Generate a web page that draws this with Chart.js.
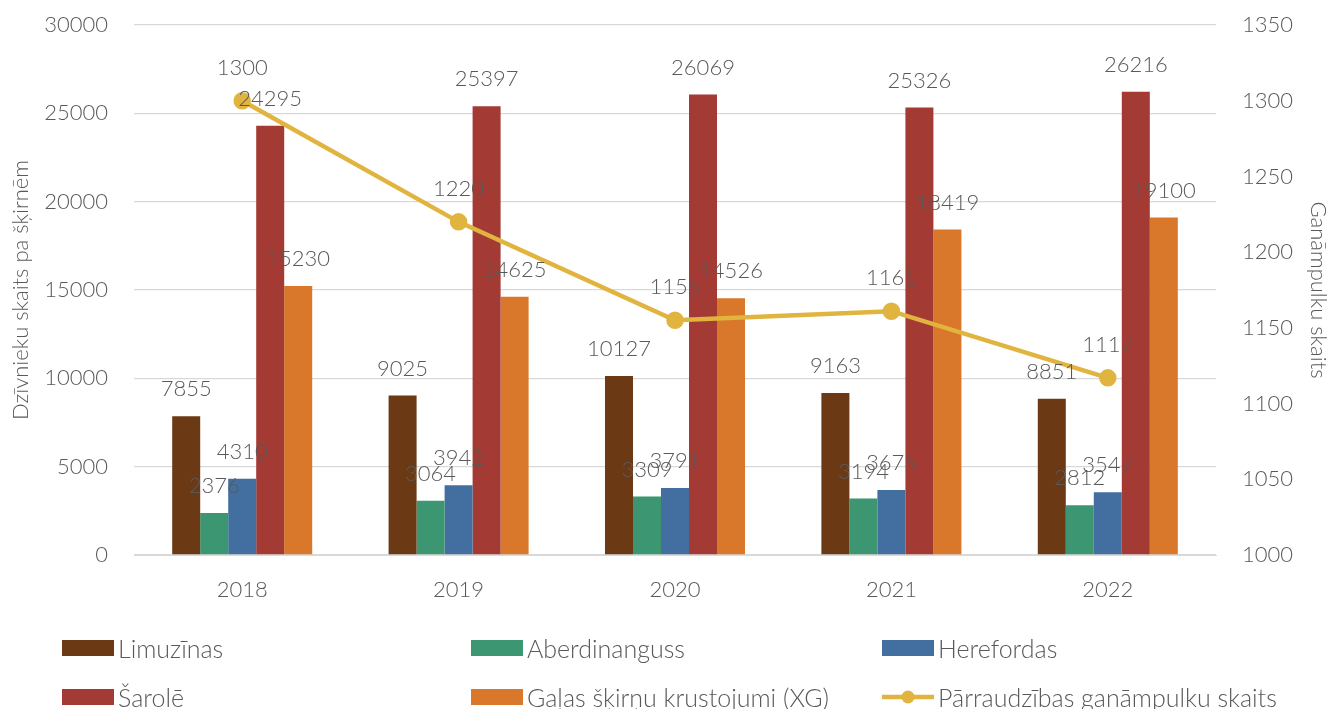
<!DOCTYPE html>
<html>
<head>
<meta charset="utf-8">
<script src="https://cdn.jsdelivr.net/npm/chart.js@4/dist/chart.umd.min.js"></script>
<style>
  body { margin: 0; background: #fff; }
  .box { position: relative; width: 1331px; height: 709px; }
  .legend { position: absolute; left: 0; top: 0; width: 1331px; height: 709px; pointer-events: none;
            font-family: 'Lato', sans-serif; font-weight: 300; font-size: 25px; color: #595959; }
  .legend div { position: absolute; display: flex; align-items: center; white-space: nowrap; }
  .legend span.sw { display: inline-block; width: 52px; height: 16px; margin-right: 4px; }
</style>
</head>
<body>
<div class="box">
  <canvas id="chart" width="1331" height="709"></canvas>
  <div class="legend" id="legend"></div>
</div>
<script>
const years = ['2018', '2019', '2020', '2021', '2022'];
const limuzinas = [7855, 9025, 10127, 9163, 8851];
const aberdinanguss = [2376, 3064, 3309, 3194, 2812];
const herefordas = [4310, 3942, 3791, 3675, 3547];
const sarole = [24295, 25397, 26069, 25326, 26216];
const galasXG = [15230, 14625, 14526, 18419, 19100];
const ganampulki = [1300, 1220, 1155, 1161, 1117];

const seriesNames = ['Limuzīnas', 'Aberdinanguss', 'Herefordas', 'Šarolē', 'Gaļas šķirņu krustojumi (XG)', 'Pārraudzības ganāmpulku skaits'];
const colors = ['#6B3914', '#3B9671', '#436FA0', '#A43A34', '#D9782B', '#E0B43E'];

const textColor = '#595959';
const fontFamily = "'Lato', sans-serif";

function barSet(i, data) {
    return {
        type: 'bar',
        label: seriesNames[i],
        data: data,
        backgroundColor: colors[i],
        borderWidth: 0,
        yAxisID: 'y',
        order: 2,
        barPercentage: 1,
        categoryPercentage: 0.647
    };
}

// draw the value labels above bars and points
const valueLabels = {
    id: 'valueLabels',
    afterDatasetsDraw(chart) {
        const ctx = chart.ctx;
        ctx.save();
        ctx.font = '300 22px ' + fontFamily;
        ctx.fillStyle = textColor;
        ctx.textAlign = 'center';
        ctx.textBaseline = 'middle';
        chart.data.datasets.forEach((ds, di) => {
            const meta = chart.getDatasetMeta(di);
            meta.data.forEach((el, i) => {
                const off = ds.type === 'line' ? 33 : 27;
                ctx.fillText(String(ds.data[i]), el.x, el.y - off);
            });
        });
        ctx.restore();
    }
};

const tickFont = { family: fontFamily, size: 22, weight: 300 };

function fitVertical(width) {
    return function (scale) {
        scale.width = width;
        scale.paddingTop = 0;
        scale.paddingBottom = 0;
    };
}

const config = {
    data: {
        labels: years,
        datasets: [
            {
                type: 'line',
                label: seriesNames[5],
                data: ganampulki,
                borderColor: colors[5],
                backgroundColor: colors[5],
                borderWidth: 4.5,
                pointRadius: 6.5,
                pointHoverRadius: 6.5,
                tension: 0,
                yAxisID: 'y1',
                order: 1
            },
            barSet(0, limuzinas),
            barSet(1, aberdinanguss),
            barSet(2, herefordas),
            barSet(3, sarole),
            barSet(4, galasXG)
        ]
    },
    options: {
        responsive: false,
        animation: false,
        layout: { padding: { top: 25, bottom: 104, left: 0, right: 0 } },
        plugins: {
            legend: { display: false },
            tooltip: { enabled: false }
        },
        scales: {
            x: {
                grid: { display: false },
                border: { color: '#d9d9d9' },
                ticks: { color: textColor, font: tickFont, padding: 14 },
                afterFit(scale) { scale.height = 50; }
            },
            y: {
                position: 'left',
                min: 0,
                max: 30000,
                ticks: { stepSize: 5000, color: textColor, font: tickFont, padding: 26,
                         callback: v => String(v) },
                grid: { color: '#d9d9d9', lineWidth: 1.3, drawTicks: false },
                border: { display: false },
                title: { display: true, text: 'Dzīvnieku skaits pa šķirnēm', color: textColor,
                         font: { family: fontFamily, size: 22, weight: 300 }, padding: { top: 8, bottom: 0 } },
                afterFit: fitVertical(134)
            },
            y1: {
                position: 'right',
                min: 1000,
                max: 1350,
                ticks: { stepSize: 50, color: textColor, font: tickFont, padding: 26,
                         callback: v => String(v) },
                grid: { display: false, drawTicks: false },
                border: { display: false },
                title: { display: true, text: 'Ganāmpulku skaits', color: textColor,
                         font: { family: fontFamily, size: 22, weight: 300 }, padding: 0 },
                afterFit: fitVertical(115)
            }
        }
    },
    plugins: [valueLabels]
};

const chart = new Chart(document.getElementById('chart'), config);

// legend in a 3 column grid, like the original
const legendPlaces = [
    [62, 648], [471, 648], [882, 648],
    [62, 697], [471, 697], [882, 697]
];
const legendBox = document.getElementById('legend');
seriesNames.forEach((name, i) => {
    const item = document.createElement('div');
    item.style.left = legendPlaces[i][0] + 'px';
    item.style.top = (legendPlaces[i][1] - 15) + 'px';
    item.style.height = '30px';
    let sw;
    if (i === 5) {
        sw = '<svg width="52" height="20" style="margin-right:4px"><line x1="0" y1="10" x2="52" y2="10" stroke="' + colors[5] + '" stroke-width="4.5"/><circle cx="26" cy="10" r="6.5" fill="' + colors[5] + '"/></svg>';
    } else {
        sw = '<span class="sw" style="background:' + colors[i] + '"></span>';
    }
    item.innerHTML = sw + '<span>' + name + '</span>';
    legendBox.appendChild(item);
});
</script>
</body>
</html>
